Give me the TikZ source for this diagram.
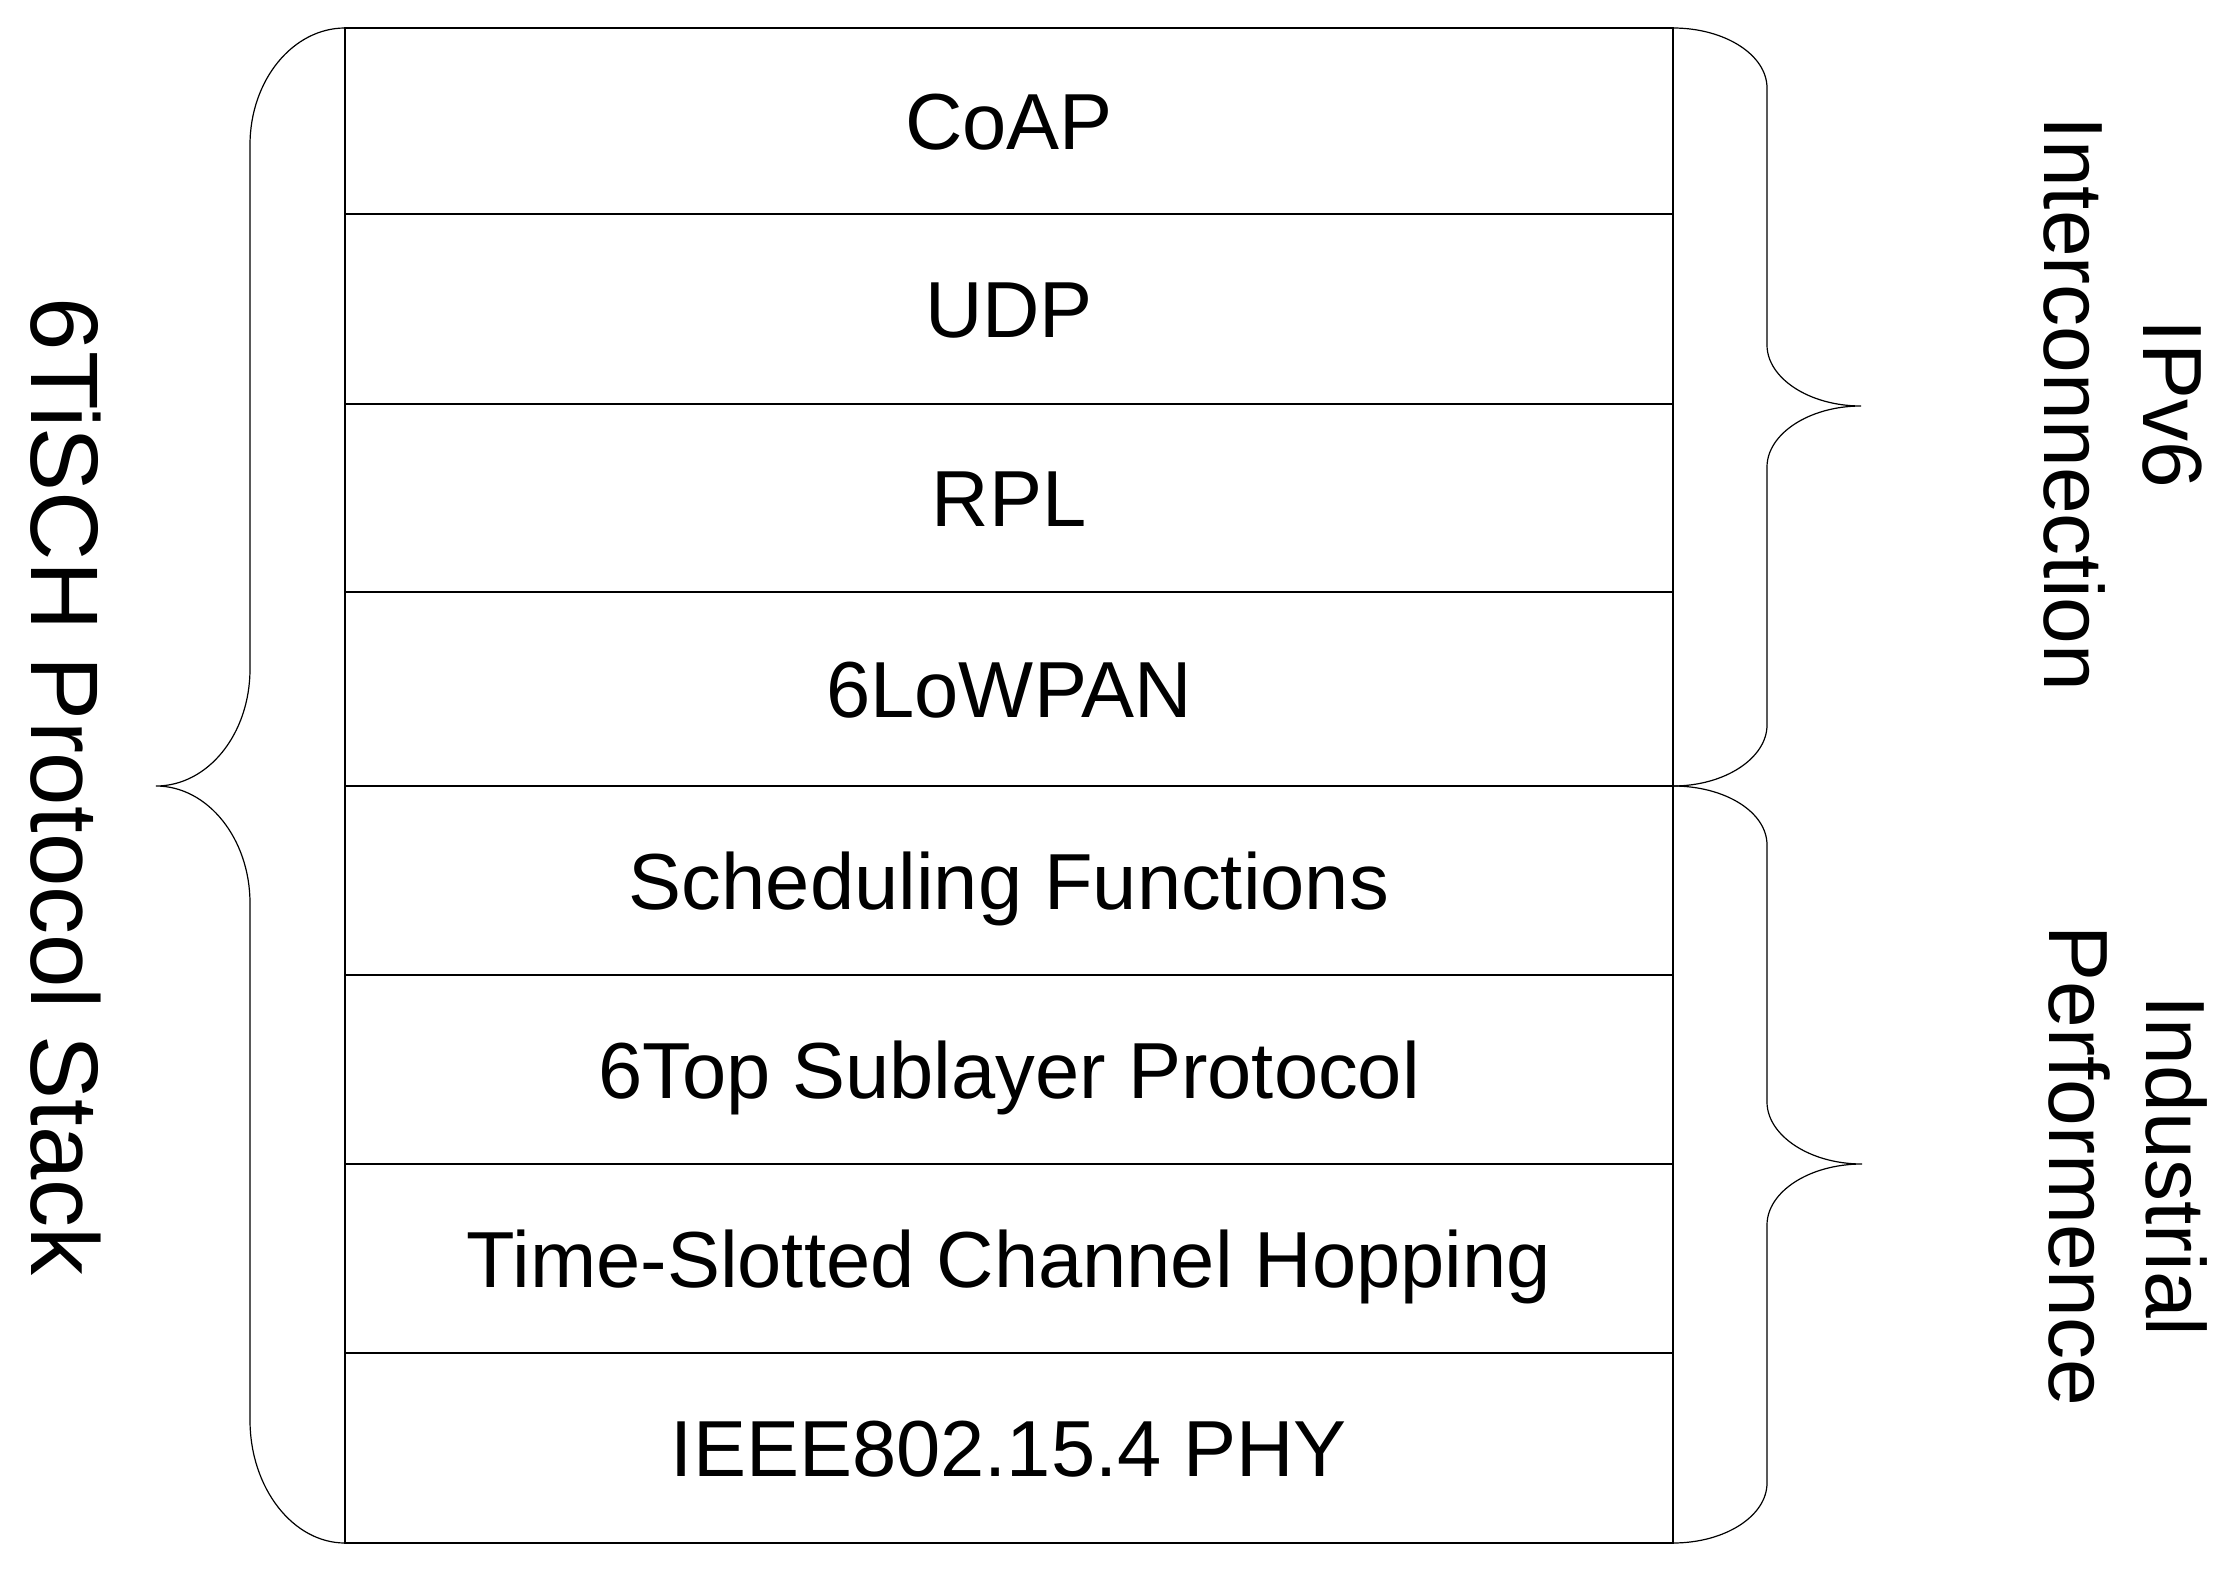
\documentclass[tikz,border=0pt]{standalone}
\usepackage{fontspec}
\setmainfont{Liberation Sans}
\begin{document}
\begin{tikzpicture}[x=1pt,y=-1pt,
  layer/.style={draw, line width=1.4pt, minimum width=1328pt, inner sep=0pt,
    text height=57pt, text depth=0pt, font=\fontsize{79.5}{95}\selectfont},
  brace/.style={draw, line width=1.2pt},
  sidebig/.style={rotate=-90, anchor=base, inner sep=0pt, font=\fontsize{96}{115}\selectfont},
  side/.style={rotate=-90, anchor=base, inner sep=0pt, font=\fontsize{84}{100}\selectfont}]
\useasboundingbox (0,0) rectangle (2236,1576);
\fill[white] (0,0) rectangle (2236,1576);
% layers
\node[layer, minimum height=186pt] (coap) at (1009,121) {CoAP};
\node[layer, minimum height=190pt] (udp) at (1009,309) {UDP};
\node[layer, minimum height=188pt] (rpl) at (1009,498) {RPL};
\node[layer, minimum height=194pt] (lowpan) at (1009,689) {6LoWPAN};
\node[layer, minimum height=189pt] (sf) at (1009,880.5) {Scheduling Functions};
\node[layer, minimum height=189pt] (sixtop) at (1009,1069.5) {6Top Sublayer Protocol};
\node[layer, minimum height=189pt] (tsch) at (1009,1258.5) {Time-Slotted Channel Hopping};
\node[layer, minimum height=190pt] (phy) at (1009,1448) {IEEE802.15.4 PHY};
% left brace
\draw[brace] (345,28) .. controls (293,28) and (250,80) .. (250,145)
  -- (250,669) .. controls (250,734) and (208,786) .. (156,786)
  .. controls (208,786) and (250,839) .. (250,903)
  -- (250,1420) .. controls (250,1488) and (293,1543) .. (345,1543);
% right upper brace
\draw[brace] (1673,28) .. controls (1725,28) and (1767,55) .. (1767,88)
  -- (1767,345) .. controls (1767,378) and (1809,406) .. (1861,406)
  .. controls (1809,406) and (1767,434) .. (1767,467)
  -- (1767,725) .. controls (1767,758) and (1725,786) .. (1673,786);
% right lower brace
\draw[brace] (1673,786) .. controls (1725,786) and (1767,812) .. (1767,845)
  -- (1767,1102) .. controls (1767,1135) and (1809,1164) .. (1862,1164)
  .. controls (1809,1164) and (1767,1192) .. (1767,1225)
  -- (1767,1483) .. controls (1767,1516) and (1725,1543) .. (1673,1543);
% side labels
\node[sidebig] (stack) at (31,787) {6TiSCH Protocol Stack};
\node[side] (ipv) at (2143,404) {IPv6};
\node[side] (inter) at (2044,404) {Interconnection};
\node[side] (indus) at (2146,1166) {Industrial};
\node[side] (perf) at (2049,1166) {Performence};
\end{tikzpicture}
\end{document}
